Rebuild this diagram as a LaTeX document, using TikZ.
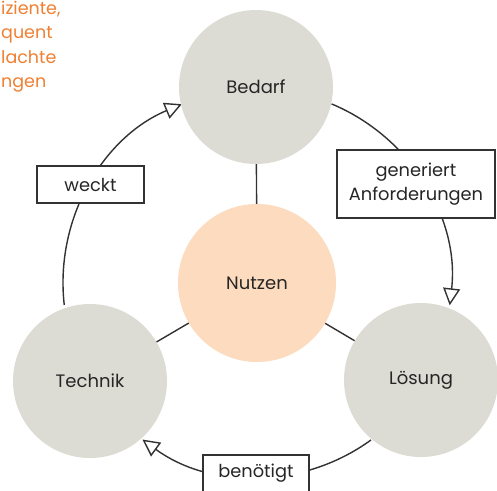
\documentclass[tikz,border=0pt]{standalone}
\usepackage{fontspec}
\setmainfont{Poppins}
\usetikzlibrary{arrows.meta,calc}
\definecolor{circgray}{RGB}{220,220,213}
\definecolor{peach}{RGB}{253,219,190}
\definecolor{linegray}{RGB}{50,50,50}
\definecolor{txtgray}{RGB}{38,38,38}
\definecolor{orangetxt}{RGB}{240,128,50}
\begin{document}
\begin{tikzpicture}[x=1pt,y=-1pt,
  topic/.style={circle, fill=circgray, minimum size=154pt, inner sep=0pt, text=txtgray, font=\fontsize{18}{22}\selectfont},
  core/.style={circle, fill=peach, minimum size=158pt, inner sep=0pt, text=txtgray, font=\fontsize{18}{22}\selectfont},
  labelbox/.style={draw=linegray, line width=1.4pt, fill=white, inner sep=0pt, text=txtgray, align=center, font=\fontsize{17.8}{24}\selectfont},
  link/.style={draw=linegray, line width=1.4pt},
  flow/.style={draw=linegray, line width=1.4pt, -{Triangle[open, length=17pt, width=17pt, line width=1.4pt]}}
]
\clip (0,0) rectangle (497,490);
\fill[white] (0,0) rectangle (497,490);

% orange text fragments
\node[anchor=north west, inner sep=0pt, align=left, text=orangetxt, font=\fontsize{17.5}{24.3}\selectfont] (frag) at (1,1) {iziente,\\quent\\lachte\\ngen};

% central point of the outer ring
\coordinate (C) at (257,283);

% outer ring arcs (under nodes)
\coordinate (a1s) at ($(C)+(-67.4:194)$);
\coordinate (a2s) at ($(C)+(54:194)$);
\coordinate (a3s) at ($(C)+(173.5:194)$);
\draw[flow] (a1s) arc[start angle=-67.4, end angle=6.6, radius=194];
\draw[flow] (a2s) arc[start angle=54, end angle=126.2, radius=194];
\draw[flow] (a3s) arc[start angle=173.5, end angle=247.2, radius=194];

% circles
\node[topic] (bedarf) at (256,87) {Bedarf};
\node[topic] (technik) at (90,381) {Technik};
\node[topic] (loesung) at (421,380) {Lösung};
\node[core] (nutzen) at (257,283) {Nutzen};

% spokes
\draw[link] (bedarf) -- (nutzen);
\draw[link] (nutzen) -- (technik);
\draw[link] (nutzen) -- (loesung);

% labels
\node[labelbox, minimum width=107pt, minimum height=37pt] (weckt) at (90.5,184.5) {weckt};
\node[labelbox, minimum width=158pt, minimum height=68pt] (gen) at (416,184) {generiert\\Anforderungen};
\node[labelbox, minimum width=106pt, minimum height=37pt] (ben) at (256,473.5) {benötigt};
\end{tikzpicture}
\end{document}
